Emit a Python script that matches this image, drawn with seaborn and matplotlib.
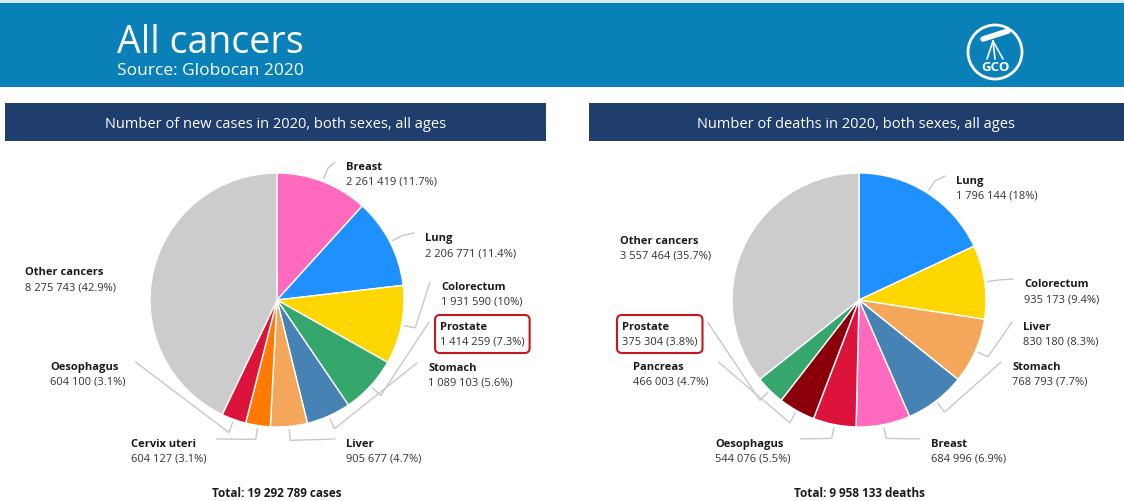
import numpy as np
import matplotlib
matplotlib.use("Agg")
import matplotlib.pyplot as plt
from matplotlib.patches import Rectangle, FancyBboxPatch, Circle
import seaborn as sns

W, H = 1124, 502

# ---- data: Globocan 2020, both sexes, all ages ----
case_sites = ["Breast", "Lung", "Colorectum", "Prostate", "Stomach",
              "Liver", "Cervix uteri", "Oesophagus", "Other cancers"]
case_counts = [2261419, 2206771, 1931590, 1414259, 1089103,
               905677, 604127, 604100, 8275743]

death_sites = ["Lung", "Colorectum", "Liver", "Stomach", "Breast",
               "Oesophagus", "Pancreas", "Prostate", "Other cancers"]
death_counts = [1796144, 935173, 830180, 768793, 684996,
                544076, 466003, 375304, 3557464]

site_colors = {
    "Breast": "#FF69BE", "Lung": "#1E90FF", "Colorectum": "#FFD700",
    "Prostate": "#36A76C", "Stomach": "#4682B4", "Liver": "#F4A65A",
    "Cervix uteri": "#FF7A00", "Oesophagus": "#DC143C",
    "Pancreas": "#8B0008", "Other cancers": "#CCCCCC",
}

# label anchors in pixels from the top-left (x of text start, y of the name line)
case_label_pos = {
    "Breast": (346, 166), "Lung": (425, 237), "Colorectum": (441, 286),
    "Prostate": (440, 326), "Stomach": (428, 367), "Liver": (346, 443),
    "Cervix uteri": (131, 443), "Oesophagus": (50, 366), "Other cancers": (25, 271),
}
death_label_pos = {
    "Lung": (956, 180), "Colorectum": (1024, 283), "Liver": (1023, 326),
    "Stomach": (1012, 366), "Breast": (931, 443), "Oesophagus": (715, 443),
    "Pancreas": (633, 366), "Prostate": (622, 326), "Other cancers": (620, 240),
}

BANNER = "#0A80B8"
NAVY = "#1F3E6E"
LINE = "#C8C8C8"
HIGHLIGHT = "#C8161D"
R = 127


def fmt(n):
    return f"{n:,}".replace(",", " ")


def Y(y):
    # pixel y from the top -> data y
    return H - y


def draw_pie(ax, sites, counts, cx, cy, label_pos, total_word, renderer):
    total = sum(counts)
    wedges, _ = ax.pie(counts, colors=[site_colors[s] for s in sites],
                       startangle=90, counterclock=False, radius=R,
                       center=(cx, Y(cy)), frame=True,
                       wedgeprops=dict(edgecolor="white", linewidth=1.0))
    for site, n, w in zip(sites, counts, wedges):
        lx, ly = label_pos[site]
        pct = round(n / total * 100, 1)
        t1 = ax.text(lx, Y(ly + 4), site, fontsize=8, fontweight="bold",
                     color="#1a1a1a", ha="left", va="baseline", zorder=4)
        t2 = ax.text(lx, Y(ly + 19), f"{fmt(n)} ({pct:g}%)", fontsize=8,
                     color="#333333", ha="left", va="baseline", zorder=4)

        bb1 = t1.get_window_extent(renderer)
        bb2 = t2.get_window_extent(renderer)
        right = max(bb1.x1, bb2.x1)

        if site == "Prostate":
            x0, x1 = lx - 5, right + 5
            y0, y1 = bb2.y0 - 6, bb1.y1 + 6
            ax.add_patch(FancyBboxPatch((x0, y0), x1 - x0, y1 - y0,
                                        boxstyle="round,pad=0,rounding_size=5",
                                        fc="none", ec=HIGHLIGHT, lw=1.5, zorder=5))
        if site == "Other cancers":
            continue

        mid = np.deg2rad((w.theta1 + w.theta2) / 2)
        u = np.array([np.cos(mid), np.sin(mid)])
        c = np.array([cx, Y(cy)])
        p0 = c + (R + 3) * u
        p1 = c + (R + 14) * u
        if lx > cx:
            p2 = (lx - 11, Y(ly - 3))
        else:
            p2 = (right + 10, Y(ly - 3))
        ax.plot([p0[0], p1[0], p2[0]], [p0[1], p1[1], p2[1]], color=LINE,
                lw=1.0, solid_joinstyle="round", zorder=2)

    ax.text(cx, Y(497), f"Total: {fmt(total)} {total_word}", fontsize=8.5,
            fontweight="bold", color="#1a1a1a", ha="center", va="baseline")


sns.set_theme(style="white")
plt.rcParams["font.family"] = ["Open Sans", "DejaVu Sans"]

fig = plt.figure(figsize=(W / 100, H / 100), dpi=100)
fig.patch.set_facecolor("white")
ax = fig.add_axes([0, 0, 1, 1])
ax.set_xlim(0, W)
ax.set_ylim(0, H)
renderer = fig.canvas.get_renderer()

# header banner
ax.add_patch(Rectangle((0, Y(4)), W, 4, color="#D9E7EF", lw=0))
ax.add_patch(Rectangle((0, Y(88)), W, 84, color=BANNER, lw=0))
ax.text(117, Y(53), "All cancers", fontsize=27, color="white",
        ha="left", va="baseline")
ax.text(117, Y(75), "Source: Globocan 2020", fontsize=12.5, color="white",
        ha="left", va="baseline")

# GCO logo
ax.add_patch(Circle((995, Y(53)), 27, fill=False, ec="white", lw=2))
ax.plot([983, 1008], [Y(40), Y(32)], color="white", lw=4, solid_capstyle="round")
for fx in (987, 995, 1003):
    ax.plot([993, fx], [Y(42), Y(60)], color="white", lw=1.2)
ax.text(995, Y(71), "GCO", fontsize=9.5, fontweight="bold", color="white",
        ha="center", va="baseline")

# panel title bars
ax.add_patch(Rectangle((5, Y(142)), 541, 38, color=NAVY, lw=0))
ax.add_patch(Rectangle((589, Y(142)), W - 589, 38, color=NAVY, lw=0))
ax.text(275.5, Y(128), "Number of new cases in 2020, both sexes, all ages",
        fontsize=10.5, color="white", ha="center", va="baseline")
ax.text(856, Y(128), "Number of deaths in 2020, both sexes, all ages",
        fontsize=10.5, color="white", ha="center", va="baseline")

draw_pie(ax, case_sites, case_counts, 277, 301, case_label_pos, "cases", renderer)
draw_pie(ax, death_sites, death_counts, 859, 301, death_label_pos, "deaths", renderer)

ax.set_xlim(0, W)
ax.set_ylim(0, H)
ax.set_axis_off()

fig.savefig("out.png", dpi=100, facecolor="white")
